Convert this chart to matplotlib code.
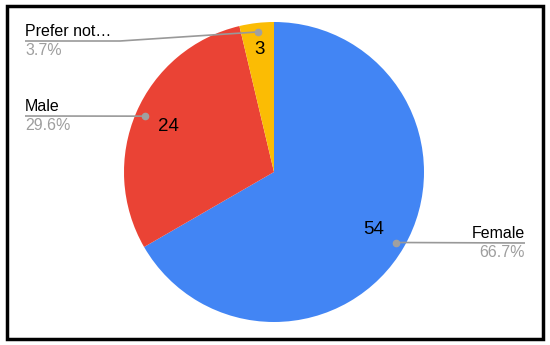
import numpy as np
import matplotlib.pyplot as plt
from matplotlib.patches import Rectangle

labels = ['Female', 'Male', 'Prefer not…']
counts = [54, 24, 3]
colors = ['#4285F4', '#EA4335', '#FBBC04']

plt.rcParams['font.family'] = ['Liberation Sans', 'DejaVu Sans']

W, H = 550, 345
cx, cy, R = 274, H - 172, 150

fig = plt.figure(figsize=(5.5, 3.45), dpi=100)
ax = fig.add_axes([0, 0, 1, 1])
ax.pie(counts, colors=colors, startangle=90, counterclock=False,
       center=(cx, cy), radius=R, wedgeprops=dict(linewidth=0))
ax.set_xlim(0, W)
ax.set_ylim(0, H)
ax.set_aspect('equal')
ax.axis('off')

total = sum(counts)
fracs = np.array(counts) / total
ends = 90 - 360 * np.cumsum(fracs)
mids = ends + 180 * fracs

# line end x, line y (pixels from top), alignment
label_pos = {
    'Female': (525, 243, 'right'),
    'Male': (25, 116, 'left'),
    'Prefer not…': (25, 41, 'left'),
}
value_r = [0.77, 0.77, 0.82]

for lab, n, f, m, vr in zip(labels, counts, fracs, mids, value_r):
    a = np.deg2rad(m)
    ax.text(cx + vr * R * np.cos(a), cy + vr * R * np.sin(a), str(n),
            fontsize=13.5, ha='center', va='center', color='black')
    dx, dy = cx + 0.94 * R * np.cos(a), cy + 0.94 * R * np.sin(a)
    lx, ly, ha = label_pos[lab]
    ly = H - ly
    if ha == 'left' and abs(dy - ly) > 3:
        xs, ys = [lx, lx + 95, dx], [ly, ly, dy]
    else:
        xs, ys = [lx, dx], [ly, dy]
    ax.plot(xs, ys, color='#999999', linewidth=1.2, solid_capstyle='butt')
    ax.plot([dx], [dy], 'o', color='#a0a0a0', markersize=4.5)
    ax.text(lx, ly + 2, lab, fontsize=11.5, ha=ha, va='bottom', color='black')
    ax.text(lx, ly - 2, f'{f * 100:.1f}%', fontsize=11.5, ha=ha, va='top',
            color='#9e9e9e')

border = Rectangle((7, H - 339), 536, 333, fill=False,
                   edgecolor='black', linewidth=2.5)
border.set_transform(None)
fig.patches.append(border)

fig.savefig('out.png', dpi=100)
